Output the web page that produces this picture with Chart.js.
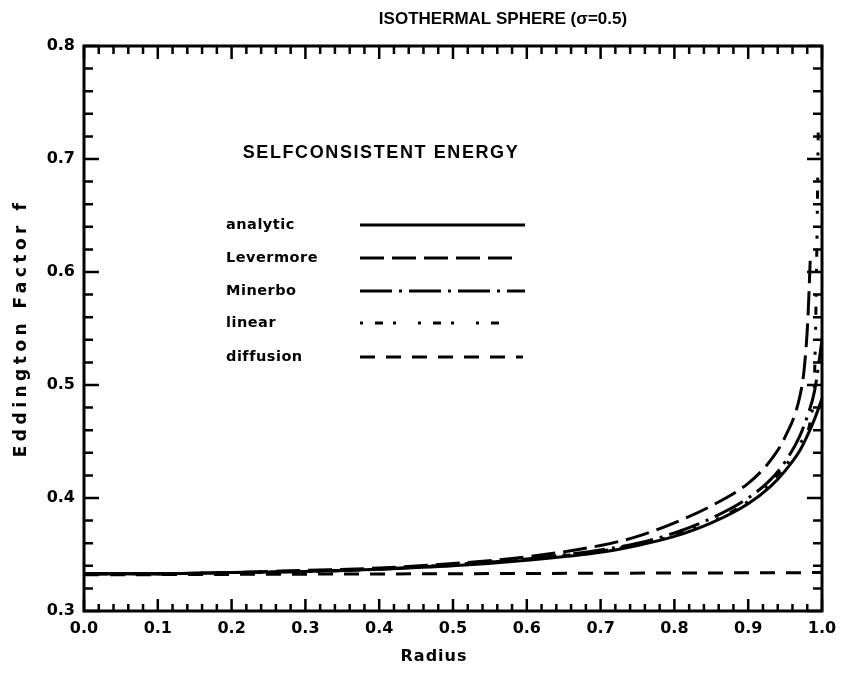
<!DOCTYPE html>
<html>
<head>
<meta charset="utf-8">
<script src="https://cdn.jsdelivr.net/npm/chart.js@4.4.1/dist/chart.umd.min.js"></script>
<style>
  html, body { margin: 0; padding: 0; background: #fff; }
  #wrap { width: 845px; height: 689px; }
</style>
</head>
<body>
<div id="wrap"><canvas id="chart" width="845" height="689"></canvas></div>
<script>
// valeurs
const radius     = [0, 0.1, 0.2, 0.3, 0.4, 0.5, 0.6, 0.7, 0.75, 0.8, 0.85, 0.9, 0.93, 0.95, 0.97, 0.98, 0.99, 1.0];
const analytic   = [0.333, 0.333, 0.334, 0.335, 0.337, 0.340, 0.345, 0.352, 0.358, 0.366, 0.378, 0.395, 0.410, 0.424, 0.442, 0.455, 0.470, 0.488];
const minerbo    = [0.333, 0.333, 0.334, 0.335, 0.337, 0.341, 0.346, 0.354, 0.360, 0.369, 0.382, 0.400, 0.416, 0.432, 0.455, 0.472, 0.495, 0.540];
const radiusLev  = [0, 0.1, 0.2, 0.3, 0.4, 0.5, 0.6, 0.7, 0.75, 0.8, 0.85, 0.9, 0.93, 0.95, 0.97, 0.976, 0.981, 0.984];
const levermore  = [0.333, 0.333, 0.334, 0.336, 0.338, 0.342, 0.348, 0.358, 0.366, 0.378, 0.393, 0.413, 0.433, 0.454, 0.490, 0.515, 0.560, 0.610];
const radiusLin  = [0, 0.1, 0.2, 0.3, 0.4, 0.5, 0.6, 0.7, 0.8, 0.9, 0.95, 0.97, 0.985, 0.99, 0.993, 0.995];
const linear     = [0.333, 0.333, 0.334, 0.335, 0.337, 0.341, 0.346, 0.353, 0.367, 0.397, 0.428, 0.448, 0.472, 0.510, 0.620, 0.730];
const radiusDiff = [0, 1.0];
const diffusion  = [0.332, 0.334];

const xTicks = [0, 0.1, 0.2, 0.3, 0.4, 0.5, 0.6, 0.7, 0.8, 0.9, 1.0];
const yTicks = [0.3, 0.4, 0.5, 0.6, 0.7, 0.8];
const pasMineur = 0.02;

const noms = ["analytic", "Levermore", "Minerbo", "linear", "diffusion"];
const tirets = [[], [24, 8], [32, 7, 3, 7], [3, 12, 8, 10, 3, 22], [15, 11]];

const pts = (xs, ys) => xs.map((x, i) => ({ x: x, y: ys[i] }));
const series = [
    pts(radius, analytic),
    pts(radiusLev, levermore),
    pts(radius, minerbo),
    pts(radiusLin, linear),
    pts(radiusDiff, diffusion)
];

const police = "'DejaVu Sans', sans-serif";
const police2 = "'Liberation Sans', Arial, sans-serif";

const cadrePlugin = {
    id: 'cadre',
    afterDatasetsDraw(chart) {
        const ctx = chart.ctx;
        const a = chart.chartArea;
        const sx = chart.scales.x, sy = chart.scales.y;
        ctx.save();
        ctx.strokeStyle = '#000';
        ctx.lineWidth = 3;
        ctx.setLineDash([]);
        ctx.strokeRect(a.left, a.top, a.right - a.left, a.bottom - a.top);

        // graduations vers l'interieur
        ctx.lineWidth = 2.5;
        ctx.beginPath();
        for (let i = 0; i <= 50; i++) {
            const px = sx.getPixelForValue(i * pasMineur);
            const maj = i % 5 === 0;
            ctx.moveTo(px, a.bottom); ctx.lineTo(px, a.bottom - (maj ? 12 : 7));
            ctx.moveTo(px, a.top); ctx.lineTo(px, a.top + (maj ? 13 : 8));
        }
        for (let i = 0; i <= 25; i++) {
            const py = sy.getPixelForValue(0.3 + i * pasMineur);
            const maj = i % 5 === 0;
            ctx.moveTo(a.left, py); ctx.lineTo(a.left + (maj ? 15 : 9), py);
            ctx.moveTo(a.right, py); ctx.lineTo(a.right - (maj ? 15 : 9), py);
        }
        ctx.stroke();

        ctx.fillStyle = '#000';
        ctx.textAlign = 'center';
        ctx.textBaseline = 'middle';

        // titre
        ctx.font = "bold 17px " + police2;
        ctx.letterSpacing = '0px';
        ctx.fillText("ISOTHERMAL SPHERE (σ=0.5)", 503, 19);

        // titres des axes
        ctx.font = "bold 16px " + police;
        ctx.letterSpacing = '1px';
        ctx.fillText("Radius", 434, 657);
        ctx.save();
        ctx.translate(22, 328);
        ctx.rotate(-Math.PI / 2);
        ctx.font = "bold 17px " + police;
        ctx.letterSpacing = '4.5px';
        ctx.fillText("Eddington Factor f", 0, 0);
        ctx.restore();

        // legende
        ctx.font = "bold 18px " + police2;
        ctx.letterSpacing = '1.6px';
        ctx.fillText("SELFCONSISTENT ENERGY", 381, 153);
        ctx.font = "bold 14.5px " + police;
        ctx.letterSpacing = '0.5px';
        ctx.textAlign = 'left';
        const yLeg = [225, 258, 291, 323, 357];
        const finLeg = [525, 517, 525, 500, 523];
        noms.forEach((n, i) => {
            ctx.fillText(n, 226, yLeg[i]);
            ctx.setLineDash(tirets[i]);
            ctx.lineWidth = 3;
            ctx.beginPath();
            ctx.moveTo(360, yLeg[i]);
            ctx.lineTo(finLeg[i], yLeg[i]);
            ctx.stroke();
        });
        ctx.restore();
    }
};

new Chart(document.getElementById('chart'), {
    type: 'scatter',
    data: {
        datasets: series.map((d, i) => ({
            label: noms[i],
            data: d,
            showLine: true,
            borderColor: '#000',
            borderWidth: 3,
            borderDash: tirets[i],
            pointRadius: 0,
            cubicInterpolationMode: 'monotone',
            fill: false
        }))
    },
    options: {
        responsive: false,
        animation: false,
        layout: { padding: { top: 46, right: 23, left: 0, bottom: 0 } },
        plugins: {
            legend: { display: false },
            tooltip: { enabled: false },
            title: { display: false }
        },
        scales: {
            x: {
                type: 'linear',
                min: 0,
                max: 1,
                afterBuildTicks: s => { s.ticks = xTicks.map(v => ({ value: v })); },
                afterFit: s => { s.height = 78; },
                grid: { display: false },
                border: { display: false },
                ticks: {
                    color: '#000',
                    padding: 0,
                    maxRotation: 0,
                    font: { family: police, size: 16, weight: 'bold' },
                    callback: v => v.toFixed(1)
                }
            },
            y: {
                type: 'linear',
                min: 0.3,
                max: 0.8,
                afterBuildTicks: s => { s.ticks = yTicks.map(v => ({ value: v })); },
                afterFit: s => { s.width = 84; },
                grid: { display: false },
                border: { display: false },
                ticks: {
                    color: '#000',
                    padding: 1,
                    font: { family: police, size: 16, weight: 'bold' },
                    callback: v => v.toFixed(1)
                }
            }
        }
    },
    plugins: [cadrePlugin]
});
</script>
</body>
</html>
